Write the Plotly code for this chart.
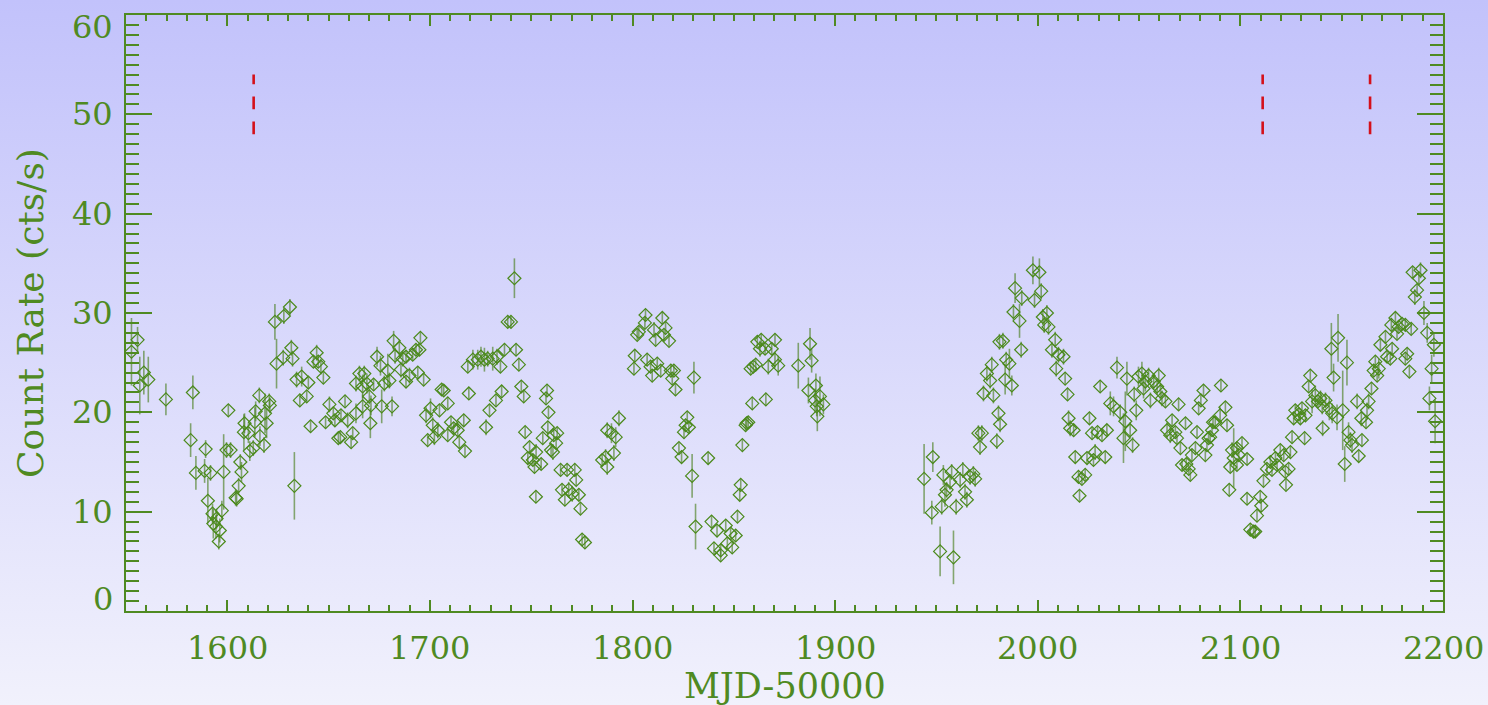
import base64
import plotly.graph_objects as go

# ---------------------------------------------------------------------------
# Light curve: MJD-50000, count rate (cts/s) and 1-sigma error
# ---------------------------------------------------------------------------
mjd = [
    1552.7, 1555.7, 1556.8, 1558.8, 1561.0, 1569.7, 1581.9, 1583.0, 1584.5, 1588.8,
    1589.3, 1590.4, 1591.7, 1592.7, 1593.1, 1594.4, 1594.7, 1595.8, 1596.3, 1597.3,
    1598.2, 1599.6, 1600.5, 1601.6, 1604.1, 1604.6, 1605.6, 1606.4, 1607.0, 1608.2,
    1608.5, 1610.4, 1611.1, 1612.8, 1613.6, 1614.0, 1615.8, 1616.1, 1618.1, 1618.6,
    1619.4, 1620.7, 1621.0, 1623.5, 1624.3, 1627.6, 1627.9, 1630.9, 1631.6, 1632.2,
    1633.1, 1634.2, 1635.8, 1636.7, 1639.2, 1640.0, 1641.1, 1642.5, 1644.1, 1644.9,
    1646.2, 1647.4, 1648.5, 1650.4, 1652.3, 1653.1, 1654.8, 1655.8, 1656.1, 1658.1,
    1659.4, 1661.1, 1661.9, 1663.5, 1663.5, 1665.2, 1666.8, 1666.8, 1667.6, 1668.9,
    1670.1, 1670.6, 1670.9, 1672.2, 1673.9, 1675.6, 1676.2, 1677.5, 1679.2, 1680.0,
    1681.3, 1682.1, 1682.8, 1684.9, 1685.7, 1686.6, 1688.2, 1688.2, 1689.9, 1691.5,
    1693.1, 1694.0, 1694.8, 1695.3, 1696.9, 1698.1, 1698.9, 1700.3, 1701.4, 1702.2,
    1703.9, 1704.7, 1705.8, 1706.8, 1708.8, 1708.8, 1710.4, 1711.7, 1713.7, 1714.5,
    1716.7, 1717.3, 1718.7, 1719.2, 1721.2, 1723.6, 1725.2, 1726.9, 1727.7, 1728.5,
    1729.4, 1731.0, 1732.6, 1733.1, 1734.8, 1735.4, 1736.8, 1738.4, 1740.0, 1741.7,
    1742.5, 1743.9, 1745.1, 1746.3, 1747.0, 1748.3, 1749.2, 1750.8, 1751.6, 1752.3,
    1752.4, 1754.9, 1755.7, 1757.3, 1757.8, 1758.2, 1758.5, 1759.8, 1760.7, 1761.1,
    1762.3, 1762.8, 1764.5, 1765.2, 1766.6, 1767.7, 1768.5, 1770.2, 1771.5, 1772.2,
    1773.5, 1774.3, 1775.1, 1776.5, 1785.0, 1786.7, 1787.5, 1787.5, 1789.6, 1790.8,
    1791.7, 1793.3, 1800.7, 1801.1, 1802.3, 1803.1, 1806.1, 1806.4, 1807.2, 1808.9,
    1809.7, 1810.6, 1811.4, 1812.2, 1813.9, 1814.7, 1815.5, 1816.3, 1818.0, 1818.9,
    1819.6, 1820.4, 1821.2, 1822.9, 1824.2, 1825.4, 1826.2, 1827.0, 1827.8, 1829.4,
    1830.3, 1831.1, 1837.3, 1839.0, 1840.2, 1841.7, 1843.5, 1843.5, 1846.0, 1846.8,
    1848.4, 1849.2, 1850.9, 1851.8, 1852.9, 1853.4, 1854.2, 1855.8, 1856.3, 1857.1,
    1858.3, 1859.1, 1859.6, 1860.8, 1861.6, 1862.9, 1863.5, 1865.4, 1865.8, 1867.0,
    1868.7, 1870.3, 1870.3, 1871.9, 1881.8, 1886.8, 1887.6, 1888.4, 1890.1, 1890.5,
    1890.9, 1891.2, 1892.5, 1894.2,
    1943.9, 1947.7, 1948.2, 1951.8, 1952.6, 1953.4, 1954.2, 1955.0, 1956.7, 1957.5,
    1958.4, 1959.7, 1961.7, 1963.0, 1964.1, 1965.0, 1966.6, 1968.2, 1969.1, 1970.7,
    1971.5, 1972.4, 1973.2, 1974.9, 1976.5, 1977.3, 1978.1, 1979.8, 1980.6, 1981.1,
    1981.4, 1982.8, 1983.9, 1984.4, 1986.0, 1987.2, 1988.0, 1988.8, 1991.0, 1991.8,
    1992.1, 1997.6, 1998.4, 2000.8, 2001.7, 2002.5, 2003.2, 2004.5, 2005.3, 2007.0,
    2008.6, 2009.1, 2010.2, 2012.7, 2013.5, 2014.7, 2015.2, 2016.0, 2017.7, 2018.5,
    2020.1, 2020.6, 2021.8, 2023.4, 2024.3, 2025.5, 2026.8, 2027.5, 2028.3, 2029.5,
    2030.8, 2031.7, 2033.3, 2034.1, 2035.8, 2037.4, 2039.1, 2040.7, 2042.3, 2043.2,
    2044.0, 2045.6, 2046.8, 2047.6, 2048.6, 2049.7, 2051.4, 2052.2, 2053.1, 2054.7,
    2055.6, 2057.2, 2058.9, 2059.7, 2060.5, 2061.3, 2063.0, 2063.8, 2065.4, 2066.3,
    2067.9, 2068.7, 2069.5, 2070.4, 2071.2, 2072.9, 2073.3, 2074.5, 2075.3, 2076.1,
    2077.8, 2078.6, 2079.4, 2080.5, 2081.8, 2082.7, 2083.5, 2084.3, 2085.1, 2086.0,
    2086.5, 2087.6, 2090.0, 2090.4, 2092.6, 2093.4, 2094.5, 2095.0, 2095.9, 2096.7,
    2098.3, 2098.3, 2099.2, 2100.8, 2103.3, 2103.3, 2104.9, 2106.5, 2107.3, 2108.2,
    2109.8, 2110.3, 2111.4, 2113.1, 2114.8, 2115.6, 2117.3, 2118.1, 2119.7, 2121.4,
    2122.2, 2122.5, 2123.8, 2124.7, 2125.5, 2126.3, 2127.1, 2128.8, 2129.6, 2130.4,
    2131.7, 2132.1, 2133.7, 2134.5, 2135.4, 2137.0, 2138.3, 2139.5, 2140.4, 2140.6,
    2142.0, 2143.9, 2144.9, 2145.3, 2146.0, 2147.7, 2148.2, 2150.5, 2151.5, 2152.6,
    2153.4, 2154.3, 2155.1, 2157.6, 2158.4, 2159.7, 2160.0, 2162.0, 2162.5, 2163.3,
    2164.7, 2165.8, 2166.6, 2167.5, 2168.3, 2169.1, 2171.6, 2172.4, 2174.0, 2174.5,
    2174.9, 2176.5, 2177.3, 2178.1, 2179.8, 2181.4, 2181.4, 2182.3, 2183.4, 2184.3,
    2185.0, 2186.1, 2187.2, 2188.1, 2188.9, 2190.6, 2192.2, 2193.3, 2194.4, 2195.5,
    2196.1,
]

rate = [
    26.1, 27.3, 22.7, 24.0, 23.3, 21.3, 17.2, 22.0, 13.9, 14.1,
    16.3, 11.1, 13.9, 9.8, 8.8, 8.5, 9.3, 7.0, 8.1, 10.1,
    14.0, 16.2, 20.2, 16.2, 11.4, 11.3, 12.6, 15.0, 14.0, 18.0,
    18.9, 17.9, 16.1, 16.4, 19.0, 20.1, 21.7, 17.6, 16.7, 19.9,
    18.9, 21.1, 20.7, 29.1, 24.9, 25.5, 29.7, 30.6, 26.5, 25.4,
    12.6, 23.3, 21.2, 23.6, 21.6, 23.0, 18.6, 25.1, 26.0, 25.1,
    24.6, 23.5, 19.0, 20.8, 19.9, 19.2, 17.4, 17.5, 19.7, 21.1,
    19.2, 17.0, 17.9, 19.9, 22.9, 23.9, 22.6, 20.6, 23.9, 22.9,
    21.6, 18.9, 20.7, 22.8, 25.6, 24.7, 20.6, 22.9, 24.2, 23.2,
    20.6, 27.2, 25.7, 26.5, 24.3, 25.4, 25.6, 23.1, 23.7, 25.8,
    26.3, 24.0, 26.3, 27.5, 23.3, 19.7, 17.2, 20.4, 18.7, 17.5,
    18.2, 20.2, 22.3, 22.2, 20.9, 17.7, 19.0, 18.4, 18.2, 17.0,
    19.2, 16.1, 24.6, 21.9, 25.3, 25.3, 25.6, 25.3, 18.5, 25.4,
    20.2, 25.4, 21.2, 25.6, 24.6, 22.1, 26.3, 29.1, 29.1, 33.5,
    26.3, 24.8, 22.6, 21.6, 18.0, 15.4, 16.5, 15.2, 14.5, 11.5,
    16.0, 14.8, 17.4, 21.4, 22.2, 18.5, 20.0, 16.2, 16.0, 17.7,
    16.9, 17.9, 14.2, 12.2, 11.2, 14.2, 12.2, 11.8, 14.2, 13.2,
    11.7, 10.3, 7.2, 6.9, 15.2, 15.5, 14.5, 18.2, 17.9, 15.9,
    17.5, 19.4, 24.4, 25.7, 27.8, 28.1, 29.0, 29.8, 25.3, 24.6,
    23.7, 28.3, 27.3, 24.9, 24.2, 29.5, 27.8, 28.5, 27.2, 24.2,
    23.4, 24.2, 22.3, 16.4, 15.5, 18.0, 18.7, 19.5, 18.5, 13.6,
    23.5, 8.5, 15.4, 9.0, 6.3, 8.1, 6.1, 5.6, 8.6, 6.8,
    7.8, 6.4, 7.6, 9.5, 11.7, 12.7, 16.7, 18.7, 18.9, 19.0,
    24.4, 20.9, 24.6, 24.8, 27.1, 26.4, 27.3, 26.4, 21.3, 24.6,
    26.4, 27.3, 25.3, 24.7, 24.7, 22.2, 26.9, 25.2, 21.2, 22.7,
    20.6, 19.6, 21.6, 20.8,
    13.3, 9.9, 15.5, 6.0, 10.5, 13.7, 11.7, 12.2, 13.0, 14.0,
    5.4, 10.5, 13.2, 14.2, 12.0, 11.2, 13.5, 13.8, 13.3, 17.9,
    16.5, 17.9, 21.9, 23.9, 23.2, 24.8, 21.7, 17.1, 19.9, 27.1,
    18.8, 27.2, 23.3, 25.3, 24.9, 22.7, 30.1, 32.5, 29.2, 26.3,
    31.5, 34.3, 31.3, 34.1, 32.2, 29.6, 28.8, 30.0, 28.6, 26.3,
    27.3, 24.4, 25.8, 25.6, 23.4, 21.8, 19.4, 18.4, 18.2, 15.5,
    13.5, 11.6, 13.3, 13.7, 15.4, 19.4, 17.9, 15.2, 16.0, 18.0,
    22.6, 17.7, 15.5, 18.2, 20.9, 20.6, 24.5, 20.0, 17.4, 19.1,
    23.4, 18.2, 16.7, 21.8, 20.2, 23.6, 23.9, 22.4, 23.1, 23.7,
    21.2, 23.1, 22.6, 23.7, 22.1, 21.4, 21.1, 18.2, 17.7, 19.2,
    18.0, 17.4, 20.8, 16.4, 14.7, 18.9, 14.8, 14.3, 13.7, 15.7,
    16.4, 18.0, 20.4, 21.2, 22.2, 15.7, 16.7, 17.4, 17.5, 18.2,
    19.0, 19.0, 19.7, 22.7, 20.5, 18.7, 12.2, 14.5, 16.2, 15.4,
    16.4, 14.7, 15.7, 16.9, 15.3, 11.3, 8.2, 8.0, 8.0, 9.6,
    11.5, 10.6, 13.1, 14.3, 15.0, 14.2, 15.4, 14.7, 16.2, 15.7,
    14.0, 12.7, 14.3, 16.0, 17.5, 19.4, 20.2, 19.8, 19.4, 20.4,
    17.4, 19.7, 22.6, 23.7, 21.1, 21.7, 21.1, 21.4, 20.6, 18.4,
    21.2, 20.4, 26.4, 19.9, 23.5, 19.5, 27.5, 20.2, 14.8, 25.0,
    18.0, 17.2, 16.7, 21.1, 15.6, 19.4, 17.2, 19.0, 20.2, 21.1,
    22.4, 24.2, 25.1, 23.7, 24.4, 26.8, 27.6, 25.6, 25.4, 28.8,
    26.4, 29.5, 27.9, 28.6, 28.9, 28.8, 25.4, 25.9, 24.1, 28.4,
    34.1, 31.6, 32.3, 33.5, 34.3, 30.0, 28.0, 21.4, 24.4, 26.8,
    19.1,
]

rate_err = [
    3.4, 1.3, 2.9, 2.2, 2.3, 1.6, 1.7, 1.7, 1.7, 1.2,
    0.9, 2.3, 0.8, 1.0, 1.5, 1.2, 1.0, 0.8, 1.2, 1.0,
    3.8, 0.8, 0.6, 0.8, 0.8, 0.8, 0.8, 0.8, 1.0, 1.8,
    1.0, 1.0, 1.0, 0.8, 1.5, 1.0, 0.8, 1.0, 0.8, 2.0,
    1.5, 0.8, 0.8, 1.8, 2.5, 0.8, 0.8, 0.8, 0.8, 0.8,
    3.4, 0.8, 0.6, 1.0, 0.6, 0.6, 0.6, 0.6, 0.8, 0.6,
    0.8, 0.6, 0.6, 0.8, 0.6, 0.6, 0.6, 0.6, 0.6, 0.6,
    0.8, 0.6, 0.6, 1.0, 0.8, 0.8, 1.2, 1.2, 0.8, 1.0,
    0.8, 1.5, 1.0, 0.6, 1.0, 1.0, 1.7, 0.8, 1.7, 0.8,
    1.0, 1.0, 0.8, 0.8, 0.8, 0.8, 0.6, 0.6, 0.8, 0.6,
    0.6, 0.6, 0.6, 0.6, 0.6, 0.8, 0.6, 1.0, 0.8, 0.8,
    0.8, 0.6, 0.6, 0.6, 0.6, 0.6, 0.6, 0.6, 0.8, 0.6,
    0.6, 0.6, 0.6, 0.6, 1.0, 1.0, 1.0, 1.2, 0.8, 0.8,
    0.6, 1.2, 0.6, 0.8, 0.6, 0.6, 0.6, 0.6, 0.6, 2.0,
    0.6, 0.6, 0.6, 0.6, 0.6, 0.6, 0.6, 0.6, 0.6, 0.6,
    0.8, 0.6, 0.6, 0.6, 0.6, 0.6, 0.6, 0.6, 0.8, 0.6,
    0.6, 0.6, 0.6, 0.6, 0.6, 0.6, 0.8, 0.8, 0.6, 0.6,
    0.6, 0.6, 0.6, 0.6, 0.6, 0.8, 0.8, 0.8, 1.0, 0.8,
    1.0, 0.8, 0.6, 0.6, 0.6, 0.6, 0.6, 0.6, 0.6, 0.6,
    0.6, 0.8, 0.6, 0.6, 0.6, 0.6, 0.6, 0.6, 0.6, 0.6,
    0.6, 0.6, 0.6, 0.6, 0.6, 0.6, 0.6, 0.6, 0.6, 2.2,
    1.6, 2.3, 0.6, 0.6, 0.6, 0.6, 0.6, 0.6, 0.6, 0.6,
    0.6, 0.6, 0.6, 0.6, 0.6, 0.6, 0.6, 0.6, 0.6, 0.6,
    0.6, 0.6, 0.6, 0.6, 0.6, 0.8, 0.6, 0.6, 0.6, 0.8,
    0.6, 0.6, 0.8, 1.0, 2.3, 1.3, 1.6, 1.2, 1.2, 1.2,
    1.0, 1.5, 2.0, 1.0,
    3.5, 1.2, 1.5, 2.5, 0.8, 1.0, 1.2, 0.8, 0.8, 0.8,
    2.7, 0.8, 0.8, 0.8, 0.8, 0.8, 0.8, 0.8, 0.8, 0.8,
    0.8, 0.8, 0.8, 0.8, 0.8, 0.8, 0.8, 0.8, 0.8, 0.8,
    0.8, 0.8, 1.5, 0.8, 1.5, 1.0, 0.8, 1.5, 1.7, 0.8,
    0.8, 1.4, 0.8, 1.4, 0.8, 0.8, 0.8, 0.8, 0.8, 0.8,
    0.8, 0.8, 0.8, 0.8, 0.6, 0.6, 0.8, 0.8, 0.6, 0.6,
    0.6, 0.6, 0.6, 0.6, 0.6, 0.6, 0.6, 0.6, 0.8, 0.6,
    0.6, 0.6, 0.6, 0.6, 1.2, 1.0, 1.1, 0.8, 2.5, 3.0,
    1.7, 0.8, 0.8, 0.8, 1.0, 1.0, 1.2, 1.0, 1.0, 0.8,
    0.8, 0.8, 0.8, 0.8, 0.8, 0.8, 0.6, 0.8, 0.8, 0.6,
    0.6, 0.6, 0.6, 0.6, 0.6, 0.6, 0.6, 0.6, 0.6, 0.6,
    0.6, 0.6, 0.6, 0.6, 0.6, 0.6, 0.6, 0.6, 0.6, 0.6,
    0.6, 0.6, 0.8, 0.6, 0.6, 0.6, 0.6, 0.6, 0.8, 3.0,
    0.6, 0.6, 0.6, 0.6, 0.6, 0.6, 0.6, 0.6, 0.6, 0.6,
    0.6, 0.6, 0.6, 0.6, 0.6, 0.6, 0.6, 0.6, 0.6, 0.6,
    0.6, 0.6, 0.6, 0.6, 0.6, 0.6, 0.6, 0.6, 0.6, 0.6,
    0.6, 0.6, 0.6, 0.6, 1.2, 1.0, 0.6, 0.8, 0.8, 0.8,
    0.8, 1.2, 2.6, 1.0, 1.4, 1.3, 2.4, 4.0, 1.8, 2.3,
    1.0, 0.8, 0.8, 0.8, 0.6, 0.8, 0.6, 0.6, 0.8, 0.8,
    0.6, 0.6, 0.6, 0.6, 1.0, 0.6, 0.6, 0.6, 0.6, 0.6,
    0.6, 0.6, 0.6, 0.6, 0.6, 0.6, 0.6, 0.6, 0.6, 0.6,
    0.6, 0.8, 0.6, 0.6, 0.8, 1.2, 1.0, 1.2, 1.4, 1.2,
    2.2,
]

# Epochs marked with vertical red dashes, and the rate span they cover
event_mjd = [1613.0, 2111.0, 2164.0]
event_span = [48.0, 54.0]

# Axis ranges and tick labels
x_range = [1550, 2200]
y_range = [0, 60]
x_tick_vals = [1600, 1700, 1800, 1900, 2000, 2100, 2200]
y_tick_vals = [0, 10, 20, 30, 40, 50, 60]

# ---------------------------------------------------------------------------
GREEN = "#4b8a1c"
AXIS_GREEN = "#4f8a22"
ERR_GREEN = "rgba(70,125,25,0.62)"
FONT = "DejaVu Serif"

W, H = 1488, 705
M_L, M_R, M_T, M_B = 126, 45, 15, 94
PW, PH = W - M_L - M_R, H - M_T - M_B

fig = go.Figure()

fig.add_trace(go.Scatter(
    x=mjd, y=rate,
    mode="markers",
    marker=dict(symbol="diamond-open", size=10, color=GREEN,
                line=dict(width=1.2, color=GREEN)),
    error_y=dict(type="data", array=rate_err, visible=True,
                 thickness=1.6, width=0, color=ERR_GREEN),
    showlegend=False, hoverinfo="x+y",
))

for t in event_mjd:
    fig.add_trace(go.Scatter(
        x=[t, t], y=event_span, mode="lines",
        line=dict(color="#d4101a", width=2.6, dash="12.6px,12.4px"),
        showlegend=False, hoverinfo="skip",
    ))

# vertical lavender-to-white backdrop covering the whole page
svg = (
    f"<svg xmlns='http://www.w3.org/2000/svg' width='{W}' height='{H}' "
    f"viewBox='0 0 {W} {H}' preserveAspectRatio='none'>"
    "<defs><linearGradient id='g' x1='0' y1='0' x2='0' y2='1'>"
    "<stop offset='0' stop-color='#c2c2fb'/>"
    "<stop offset='1' stop-color='#f1f1fc'/>"
    "</linearGradient></defs>"
    f"<rect width='{W}' height='{H}' fill='url(#g)'/></svg>"
)
bg_src = "data:image/svg+xml;base64," + base64.b64encode(svg.encode()).decode()

fig.add_layout_image(dict(
    source=bg_src, xref="paper", yref="paper",
    x=-M_L / PW, y=1 + M_T / PH, sizex=W / PW, sizey=H / PH,
    xanchor="left", yanchor="top", sizing="stretch", layer="below",
))

annotations = []
for v in x_tick_vals:
    annotations.append(dict(
        x=v, xref="x", y=0, yref="paper", text=str(v), showarrow=False,
        xanchor="center", yanchor="middle", yshift=-37,
        font=dict(family=FONT, size=32, color=AXIS_GREEN),
    ))
edge_shift = {y_range[0]: 12, y_range[1]: -12}
for v in y_tick_vals:
    annotations.append(dict(
        x=0, xref="paper", y=v, yref="y", text=str(v), showarrow=False,
        xanchor="right", yanchor="middle", xshift=-11,
        yshift=edge_shift.get(v, 0),
        font=dict(family=FONT, size=32, color=AXIS_GREEN),
    ))
annotations.append(dict(
    x=0.5, xref="paper", y=0, yref="paper", text="MJD-50000", showarrow=False,
    xanchor="center", yanchor="middle", yshift=-75,
    font=dict(family=FONT, size=35, color=AXIS_GREEN),
))
annotations.append(dict(
    x=0, xref="paper", y=0.5, yref="paper", text="Count Rate (cts/s)",
    showarrow=False, textangle=-90, xanchor="center", yanchor="middle",
    xshift=-96,
    font=dict(family=FONT, size=36, color=AXIS_GREEN),
))

axis_common = dict(
    showgrid=False, zeroline=False, showticklabels=False,
    showline=True, linecolor=AXIS_GREEN, linewidth=1.6,
    mirror="ticks", ticks="inside", tickcolor=AXIS_GREEN, tickwidth=1.5,
)

fig.update_layout(
    width=W, height=H,
    margin=dict(l=M_L, r=M_R, t=M_T, b=M_B, pad=0),
    paper_bgcolor="rgba(0,0,0,0)", plot_bgcolor="rgba(0,0,0,0)",
    xaxis=dict(range=x_range, tick0=1500, dtick=100, ticklen=11,
               minor=dict(ticks="inside", dtick=10, ticklen=6,
                          tickcolor=AXIS_GREEN, tickwidth=1.5, showgrid=False),
               **axis_common),
    yaxis=dict(range=y_range, tick0=0, dtick=10, ticklen=26,
               minor=dict(ticks="inside", dtick=1, ticklen=13,
                          tickcolor=AXIS_GREEN, tickwidth=1.5, showgrid=False),
               **axis_common),
    annotations=annotations,
    showlegend=False,
)

fig.write_html("out.html")
